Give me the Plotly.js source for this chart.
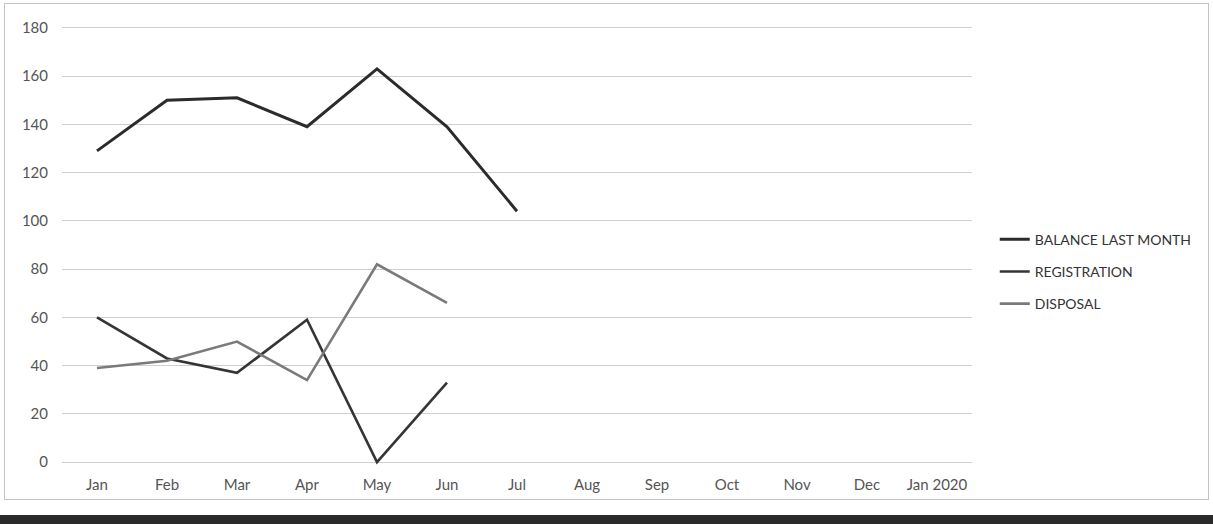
<!DOCTYPE html>
<html>
<head>
<meta charset="utf-8">
<script src="https://cdn.plot.ly/plotly-3.0.1.min.js"></script>
<style>
  html, body { margin: 0; padding: 0; background: #ffffff; }
  #wrap { position: relative; width: 1213px; height: 524px; overflow: hidden; background: #fff; }
  #frame { position: absolute; left: 4px; top: 3px; width: 1205px; height: 497px; border: 1px solid #c4c4c4; box-sizing: border-box; pointer-events: none; }
  #band { position: absolute; left: 0; top: 515px; width: 1213px; height: 9px; background: #2a2a2a; }
  #chart { position: absolute; left: 0; top: 0; width: 1213px; height: 524px; }
</style>
</head>
<body>
<div id="wrap">
  <div id="chart"></div>
  <div id="frame"></div>
  <div id="band"></div>
</div>
<script>
const months = ["Jan", "Feb", "Mar", "Apr", "May", "Jun", "Jul", "Aug", "Sep", "Oct", "Nov", "Dec", "Jan 2020"];
const balanceLastMonth = [129, 150, 151, 139, 163, 139, 104, null, null, null, null, null, null];
const registration = [60, 43, 37, 59, 0, 33, null, null, null, null, null, null, null];
const disposal = [39, 42, 50, 34, 82, 66, null, null, null, null, null, null, null];
const yTicks = [0, 20, 40, 60, 80, 100, 120, 140, 160, 180];

const font = "Lato, 'Open Sans', 'Liberation Sans', sans-serif";

const traces = [
  { name: "BALANCE LAST MONTH", x: months, y: balanceLastMonth, type: "scatter", mode: "lines",
    line: { color: "#2b2b2b", width: 3 }, legendgroup: "a" },
  { name: "REGISTRATION", x: months, y: registration, type: "scatter", mode: "lines",
    line: { color: "#353535", width: 2.6 }, legendgroup: "b" },
  { name: "DISPOSAL", x: months, y: disposal, type: "scatter", mode: "lines",
    line: { color: "#7a7a7a", width: 2.6 }, legendgroup: "c" }
];

const layout = {
  width: 1213, height: 524,
  margin: { l: 62, r: 241, t: 23, b: 57, pad: 0 },
  paper_bgcolor: "rgba(0,0,0,0)", plot_bgcolor: "#ffffff",
  font: { family: font, size: 15, color: "#555555" },
  showlegend: true,
  legend: {
    x: 1.025, xanchor: "left", y: 0.44, yanchor: "middle",
    font: { family: font, size: 14, color: "#333333" },
    tracegroupgap: 11, bgcolor: "rgba(0,0,0,0)", itemwidth: 30
  },
  xaxis: {
    type: "category", categoryorder: "array", categoryarray: months,
    range: [-0.5, 12.5], showgrid: false, zeroline: false, showline: false,
    ticks: "", ticklabelstandoff: 7, tickfont: { family: font, size: 15, color: "#555555" }
  },
  yaxis: {
    range: [-2, 182], tickvals: yTicks, ticktext: yTicks.map(String),
    showgrid: true, gridcolor: "#cfcfcf", gridwidth: 1, zeroline: false, showline: false,
    ticks: "", ticklabelstandoff: 13, tickfont: { family: font, size: 15, color: "#555555" }
  }
};

Plotly.newPlot("chart", traces, layout, { displayModeBar: false, staticPlot: true });
</script>
</body>
</html>
